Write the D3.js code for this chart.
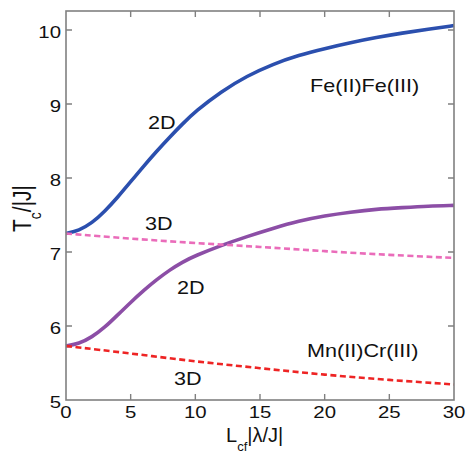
<!DOCTYPE html>
<html>
<head>
<meta charset="utf-8">
<script src="https://cdn.jsdelivr.net/npm/d3@7"></script>
<style>
  body { margin: 0; background: #fff; }
  svg { display: block; }
  text { font-family: "Liberation Sans", Arial, sans-serif; fill: #111; }
</style>
</head>
<body>
<div id="chart"></div>
<script>
'use strict';

// L_cf |lambda/J| sample points
var xs = [0, 1, 2, 3, 4, 5, 6, 7, 8, 9, 10, 12, 14, 16, 18, 20, 22, 24, 26, 28, 30];
// Fe(II)Fe(III), 2D
var fe2D = [7.25, 7.29, 7.39, 7.55, 7.74, 7.95, 8.16, 8.36, 8.55, 8.73, 8.90, 9.17, 9.38, 9.54, 9.66, 9.75, 9.83, 9.90, 9.96, 10.01, 10.06];
// Mn(II)Cr(III), 2D
var mn2D = [5.73, 5.76, 5.85, 5.98, 6.15, 6.32, 6.48, 6.625, 6.755, 6.865, 6.95, 7.09, 7.21, 7.32, 7.42, 7.49, 7.54, 7.58, 7.60, 7.62, 7.63];
// 3D curves (dashed)
var xs3D = [0, 5, 10, 15, 20, 25, 30];
var fe3D = [7.25, 7.18, 7.12, 7.07, 7.01, 6.96, 6.92];
var mn3D = [5.73, 5.63, 5.52, 5.43, 5.34, 5.27, 5.21];

var xTicks = [0, 5, 10, 15, 20, 25, 30];
var yTicks = [5, 6, 7, 8, 9, 10];

var series = [
  { x: xs, y: fe2D, color: '#2b4fae', width: 3.6, dash: null },
  { x: xs, y: mn2D, color: '#8c4ea6', width: 3.6, dash: null },
  { x: xs3D, y: fe3D, color: '#ea6cba', width: 2.6, dash: '6,3.5' },
  { x: xs3D, y: mn3D, color: '#ee2424', width: 2.6, dash: '6,3.5' }
];

var labels = [
  { text: '2D', x: 148, y: 129 },
  { text: '3D', x: 145, y: 230 },
  { text: '2D', x: 177, y: 294 },
  { text: '3D', x: 174, y: 385 },
  { text: 'Fe(II)Fe(III)', x: 310, y: 92 },
  { text: 'Mn(II)Cr(III)', x: 307, y: 357 }
];

var W = 466, H = 455;
var mLeft = 66, mRight = 454, mTop = 11, mBottom = 400;
var stretch = 1.2; // glyphs are a bit wide in the original

var svg = d3.select('#chart').append('svg')
  .attr('width', W)
  .attr('height', H);

var x = d3.scaleLinear().domain([0, 30]).range([mLeft, mRight]);
var y = d3.scaleLinear().domain([5, 10.257]).range([mBottom, mTop]);

// curves (basis spline keeps them smooth between read-off points)
var line = d3.line().curve(d3.curveBasis);
series.forEach(function(s) {
  var pts = s.x.map(function(d, i) { return [x(d), y(s.y[i])]; });
  svg.append('path')
    .attr('d', line(pts))
    .attr('fill', 'none')
    .attr('stroke', s.color)
    .attr('stroke-width', s.width)
    .attr('stroke-dasharray', s.dash)
    .attr('stroke-linecap', 'butt');
});

// frame with inward ticks on all sides
var axisColor = '#808080';
var tickLen = 6;
var frame = svg.append('g');
frame.append('rect')
  .attr('x', mLeft).attr('y', mTop)
  .attr('width', mRight - mLeft).attr('height', mBottom - mTop)
  .attr('fill', 'none')
  .attr('stroke', axisColor)
  .attr('stroke-width', 1.6);

frame.selectAll('.xt')
  .data(xTicks.slice(1, -1))
  .enter().append('path')
  .attr('d', function(d) {
    return 'M' + x(d) + ',' + mBottom + 'v' + (-tickLen) +
           'M' + x(d) + ',' + mTop + 'v' + tickLen;
  })
  .attr('stroke', axisColor)
  .attr('stroke-width', 1.4);

frame.selectAll('.yt')
  .data(yTicks.slice(1))
  .enter().append('path')
  .attr('d', function(d) {
    return 'M' + mLeft + ',' + y(d) + 'h' + tickLen +
           'M' + mRight + ',' + y(d) + 'h' + (-tickLen);
  })
  .attr('stroke', axisColor)
  .attr('stroke-width', 1.4);

// tick labels
svg.selectAll('.xl')
  .data(xTicks)
  .enter().append('text')
  .attr('transform', function(d) {
    return 'translate(' + x(d) + ',418) scale(' + stretch + ',1)';
  })
  .attr('text-anchor', 'middle')
  .style('font-size', '17px')
  .text(function(d) { return d; });

svg.selectAll('.yl')
  .data(yTicks)
  .enter().append('text')
  .attr('transform', function(d) {
    return 'translate(61,' + (y(d) + 8) + ') scale(' + stretch + ',1)';
  })
  .attr('text-anchor', 'end')
  .style('font-size', '17px')
  .text(function(d) { return d; });

// annotations
svg.selectAll('.ann')
  .data(labels)
  .enter().append('text')
  .attr('transform', function(d) {
    return 'translate(' + d.x + ',' + d.y + ') scale(' + stretch + ',1)';
  })
  .style('font-size', '18px')
  .text(function(d) { return d.text; });

// axis titles
var xt = svg.append('text')
  .attr('transform', 'translate(226,442)')
  .style('font-size', '20px');
xt.append('tspan').text('L');
xt.append('tspan').attr('dy', 9).style('font-size', '13px').text('cf');
xt.append('tspan').attr('dy', -9).text('|λ/J|');

var yt = svg.append('text')
  .attr('transform', 'translate(31,232) scale(' + stretch + ',1) rotate(-90)')
  .style('font-size', '21px');
yt.append('tspan').text('T');
yt.append('tspan').attr('dy', 8).style('font-size', '14px').text('c');
yt.append('tspan').attr('dy', -8).text('/|J|');
</script>
</body>
</html>
